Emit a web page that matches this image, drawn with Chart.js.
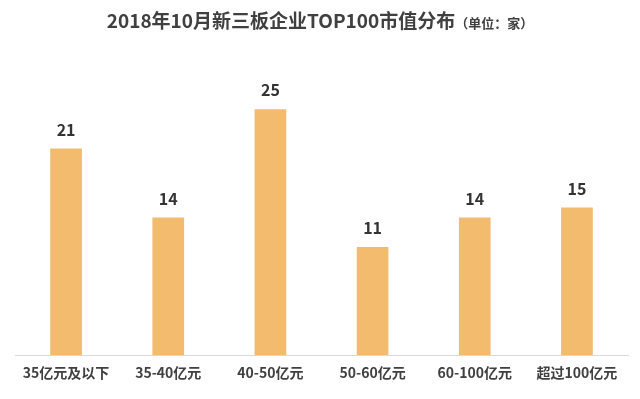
<!DOCTYPE html>
<html>
<head>
<meta charset="utf-8">
<script src="https://cdn.jsdelivr.net/npm/chart.js@4"></script>
<style>
  body { margin: 0; background: #fff; }
  #wrap { position: relative; width: 640px; height: 399px; }
  #title { position: absolute; top: 6px; left: 0; width: 640px; text-align: center;
           font-family: "Noto Sans CJK SC", sans-serif; color: #404040; }
  #title .main { font-size: 19px; font-weight: bold; }
  #title .unit { font-size: 13px; font-weight: bold; }
</style>
</head>
<body>
<div id="wrap">
  <div id="title"><span class="main">2018年10月新三板企业TOP100市值分布</span><span class="unit">（单位：家）</span></div>
  <canvas id="c" width="640" height="399"></canvas>
</div>
<script>
// data
const categories = ['35亿元及以下', '35-40亿元', '40-50亿元', '50-60亿元', '60-100亿元', '超过100亿元'];
const counts = [21, 14, 25, 11, 14, 15];

// value labels above bars
const valueLabels = {
    id: 'valueLabels',
    afterDatasetsDraw(chart) {
        const ctx = chart.ctx;
        const meta = chart.getDatasetMeta(0);
        ctx.save();
        ctx.font = 'bold 16px "Noto Sans CJK SC", sans-serif';
        ctx.fillStyle = '#333333';
        ctx.textAlign = 'center';
        ctx.textBaseline = 'middle';
        meta.data.forEach((bar, i) => {
            ctx.fillText(String(counts[i]), bar.x, bar.y - 19);
        });
        ctx.restore();
    }
};

new Chart(document.getElementById('c'), {
    type: 'bar',
    data: {
        labels: categories,
        datasets: [{
            data: counts,
            backgroundColor: '#F2BB6E',
            barPercentage: 0.62,
            categoryPercentage: 0.5
        }]
    },
    options: {
        responsive: false,
        animation: false,
        layout: { padding: { left: 15, right: 12, top: 60, bottom: 17 } },
        plugins: {
            legend: { display: false },
            tooltip: { enabled: false }
        },
        scales: {
            y: { display: false, min: 0, max: 30 },
            x: {
                grid: { display: false },
                border: { color: '#d9d9d9', width: 1 },
                ticks: {
                    color: '#404040',
                    padding: 1,
                    font: { family: '"Noto Sans CJK SC", sans-serif', size: 14, weight: 'bold' }
                }
            }
        }
    },
    plugins: [valueLabels]
});
</script>
</body>
</html>
